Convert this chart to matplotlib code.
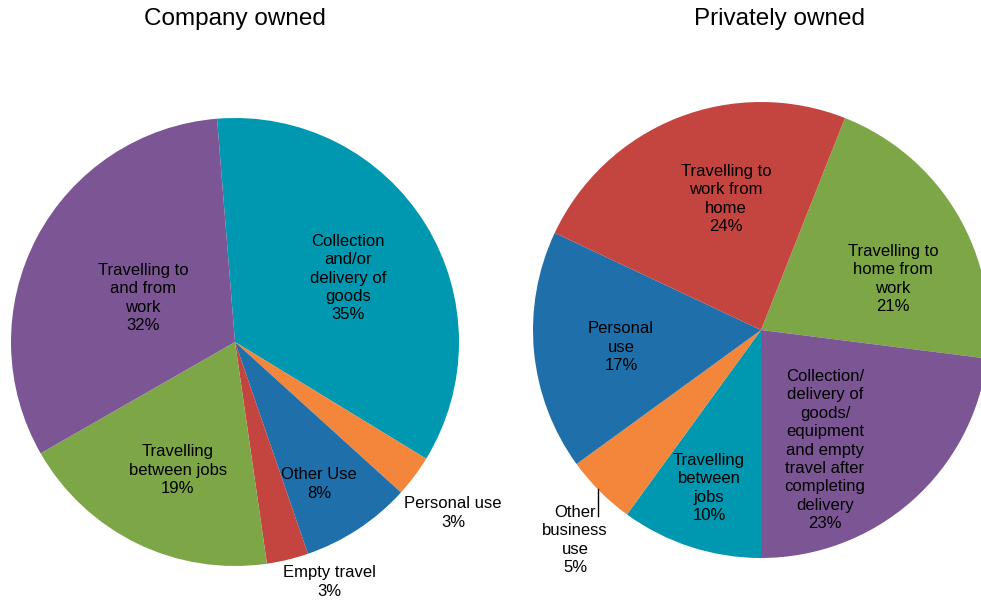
import matplotlib.pyplot as plt

# company owned vehicles
company_labels = ["Collection\nand/or\ndelivery of\ngoods", "Personal use", "Other Use",
                  "Empty travel", "Travelling\nbetween jobs", "Travelling to\nand from\nwork"]
company_vals = [35, 3, 8, 3, 19, 32]
company_cols = ["#0098b1", "#f3863a", "#1f70aa", "#c4443f", "#7da647", "#7b5594"]

# privately owned vehicles
private_labels = ["Travelling to\nhome from\nwork",
                  "Collection/\ndelivery of\ngoods/\nequipment\nand empty\ntravel after\ncompleting\ndelivery",
                  "Travelling\nbetween\njobs", "Other\nbusiness\nuse", "Personal\nuse",
                  "Travelling to\nwork from\nhome"]
private_vals = [21, 23, 10, 5, 17, 24]
private_cols = ["#7da647", "#7b5594", "#0098b1", "#f3863a", "#1f70aa", "#c4443f"]

W, H = 981, 603
fig = plt.figure(figsize=(W / 100, H / 100), dpi=100)
ax = fig.add_axes([0, 0, 1, 1])

# pie centres / radii in pixel units (y measured from bottom)
c1, r1 = (235, H - 342), 224
c2, r2 = (761, H - 330), 228

ax.pie(company_vals, colors=company_cols, startangle=94.6, counterclock=False,
       center=c1, radius=r1, frame=True, wedgeprops=dict(linewidth=0))
ax.pie(private_vals, colors=private_cols, startangle=68.4, counterclock=False,
       center=c2, radius=r2, frame=True, wedgeprops=dict(linewidth=0))
ax.set_xlim(0, W)
ax.set_ylim(0, H)
ax.set_aspect("equal")
ax.axis("off")

fs = 12
# label positions (pixels from top-left)
company_pos = [(348, 278), (453, 513), (319, 484), (329, 582), (178, 470), (143, 298)]
private_pos = [(893, 279), (825, 450), (709, 488), (575, 540), (621, 347), (726, 199)]

for lab, v, (x, y) in zip(company_labels, company_vals, company_pos):
    ax.text(x, H - y, f"{lab}\n{v}%", ha="center", va="center", fontsize=fs,
            family="Liberation Sans", linespacing=1.28)
for lab, v, (x, y) in zip(private_labels, private_vals, private_pos):
    ax.text(x, H - y, f"{lab}\n{v}%", ha="center", va="center", fontsize=fs,
            family="Liberation Sans", linespacing=1.28)

# leader line for the small slice
ax.plot([598, 598], [H - 489, H - 516], color="black", lw=1)

ax.text(235, H - 19, "Company owned", ha="center", va="center", fontsize=17.5,
        family="Liberation Sans")
ax.text(780, H - 19, "Privately owned", ha="center", va="center", fontsize=17.5,
        family="Liberation Sans")

fig.savefig("out.png", dpi=100)
